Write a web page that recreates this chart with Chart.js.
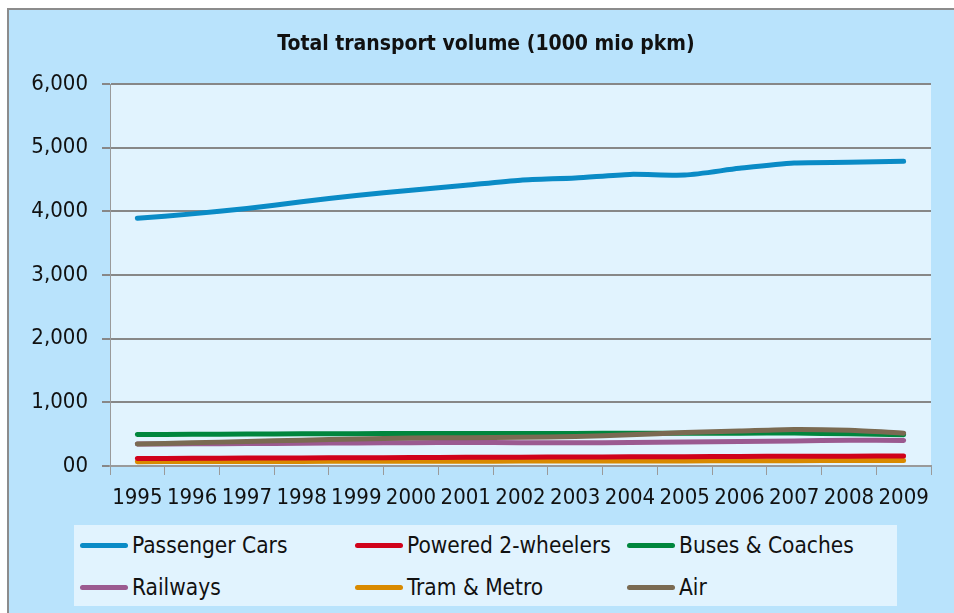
<!DOCTYPE html>
<html>
<head>
<meta charset="utf-8">
<script src="https://cdn.jsdelivr.net/npm/chart.js@4.4.1/dist/chart.umd.min.js"></script>
<style>
  html, body { margin: 0; padding: 0; background: #ffffff; overflow: hidden; width: 954px; height: 613px; }
  #frame {
    position: absolute; left: 7px; top: 8px; width: 960px; height: 620px;
    background: #b9e3fc; border-top: 2px solid #8c8c8c; border-left: 2px solid #8c8c8c;
  }
  #wrap { position: absolute; left: 0; top: 0; width: 954px; height: 613px; }
  #title {
    position: absolute; left: 236px; width: 500px; top: 30px; text-align: center;
    font-family: 'DejaVu Sans Condensed', 'DejaVu Sans', sans-serif;
    font-size: 21px; font-weight: bold; color: #111; white-space: nowrap; line-height: 26px;
  }
  #legend {
    position: absolute; left: 74px; top: 525px; width: 823px; height: 81px;
    background: #e1f3fe; font-family: 'DejaVu Sans Condensed', 'DejaVu Sans', sans-serif;
    font-size: 22.5px; color: #111;
  }
  .item { position: absolute; height: 26px; line-height: 26px; white-space: nowrap; }
  .swatch {
    display: inline-block; width: 48px; height: 5px; border-radius: 3px;
    vertical-align: middle; margin-right: 4px; position: relative; top: -1px;
  }
</style>
</head>
<body>
<div id="frame"></div>
<div id="wrap"><canvas id="transportChart" width="954" height="613"></canvas></div>
<div id="title">Total transport volume (1000 mio pkm)</div>
<div id="legend"></div>
<script>
  // ===== DONNÉES =====
  const years = ['1995', '1996', '1997', '1998', '1999', '2000', '2001', '2002', '2003', '2004', '2005', '2006', '2007', '2008', '2009'];
  const seriesNames = ['Passenger Cars', 'Powered 2-wheelers', 'Buses & Coaches', 'Railways', 'Tram & Metro', 'Air'];
  const passengerCars = [3890, 3960, 4045, 4150, 4250, 4330, 4410, 4490, 4525, 4580, 4570, 4675, 4760, 4770, 4785];
  const poweredTwoWheelers = [118, 121, 124, 127, 130, 133, 136, 138, 141, 144, 147, 150, 153, 155, 157];
  const busesCoaches = [495, 498, 502, 505, 508, 510, 512, 512, 512, 513, 513, 515, 518, 505, 490];
  const railways = [345, 348, 352, 358, 362, 366, 368, 366, 364, 370, 378, 385, 394, 405, 400];
  const tramMetro = [68, 70, 71, 72, 74, 75, 76, 77, 78, 79, 80, 82, 84, 85, 86];
  const air = [345, 365, 385, 405, 425, 440, 445, 450, 465, 490, 525, 550, 575, 560, 515];
  const yTicks = [0, 1000, 2000, 3000, 4000, 5000, 6000];

  const colors = ['#0a8bc6', '#d0021b', '#00863d', '#9b5a90', '#d98a00', '#7a6a52'];
  const values = [passengerCars, poweredTwoWheelers, busesCoaches, railways, tramMetro, air];
  const fontFamily = "'DejaVu Sans Condensed', 'DejaVu Sans', sans-serif";

  const datasets = seriesNames.map(function(name, i) {
    return {
      label: name,
      data: values[i],
      borderColor: colors[i],
      backgroundColor: colors[i],
      borderWidth: 5,
      borderCapStyle: 'round',
      borderJoinStyle: 'round',
      pointRadius: 0,
      tension: 0.25,
      order: name === 'Air' ? -1 : i
    };
  });

  // fond de la zone de tracé
  const plotBg = {
    id: 'plotBg',
    beforeDraw: function(chart) {
      const a = chart.chartArea;
      const ctx = chart.ctx;
      ctx.save();
      ctx.fillStyle = '#e1f3fe';
      ctx.fillRect(a.left, a.top, a.right - a.left, a.bottom - a.top);
      ctx.restore();
    }
  };

  new Chart(document.getElementById('transportChart'), {
    type: 'line',
    data: { labels: years, datasets: datasets },
    plugins: [plotBg],
    options: {
      responsive: false,
      animation: false,
      layout: { padding: { left: 0, right: 23, top: 84, bottom: 107 } },
      plugins: {
        legend: { display: false },
        tooltip: { enabled: false },
        title: { display: false }
      },
      scales: {
        y: {
          min: 0,
          max: 6000,
          afterFit: function(scale) { scale.width = 110; },
          afterBuildTicks: function(scale) {
            scale.ticks = yTicks.map(function(v) { return { value: v }; });
          },
          ticks: {
            color: '#111',
            padding: 14,
            font: { family: fontFamily, size: 22 },
            callback: function(v) { return v === 0 ? '00' : v.toLocaleString('en-US'); }
          },
          grid: { color: '#878787', lineWidth: 2, tickLength: 8 },
          border: { color: '#9a9a9a', width: 1 }
        },
        x: {
          offset: true,
          afterFit: function(scale) { scale.height = 40; },
          ticks: {
            color: '#111',
            padding: 10,
            maxRotation: 0,
            autoSkip: false,
            font: { family: fontFamily, size: 22 }
          },
          grid: { offset: true, drawOnChartArea: false, color: '#9a9a9a', tickLength: 9 },
          border: { color: '#9a9a9a', width: 2 }
        }
      }
    }
  });

  // ===== LÉGENDE =====
  const legend = document.getElementById('legend');
  const colX = [6, 281, 553];
  const rowY = [7, 49];
  seriesNames.forEach(function(name, i) {
    const item = document.createElement('div');
    item.className = 'item';
    item.style.left = colX[i % 3] + 'px';
    item.style.top = rowY[Math.floor(i / 3)] + 'px';
    const sw = document.createElement('span');
    sw.className = 'swatch';
    sw.style.background = colors[i];
    item.appendChild(sw);
    item.appendChild(document.createTextNode(name));
    legend.appendChild(item);
  });
</script>
</body>
</html>
